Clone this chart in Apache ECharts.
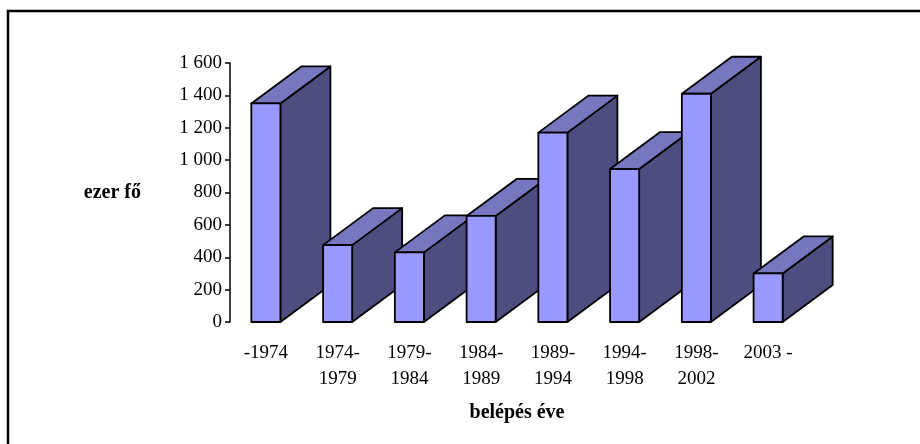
<!DOCTYPE html>
<html>
<head>
<meta charset="utf-8">
<script src="https://cdn.jsdelivr.net/npm/echarts@6/dist/echarts.min.js"></script>
<style>
  html, body { margin: 0; padding: 0; background: #fff; }
  #chart { width: 920px; height: 444px; }
</style>
</head>
<body>
<div id="chart"></div>
<script>
// belépés éve szerinti létszám, ezer fő
const categories = ['-1974', '1974-\n1979', '1979-\n1984', '1984-\n1989', '1989-\n1994', '1994-\n1998', '1998-\n2002', '2003 -']
const values = [1350, 475, 430, 655, 1170, 945, 1410, 300]
const yTicks = { min: 0, max: 1600, interval: 200 }

const FONT = 'Liberation Serif, Times New Roman, serif'
const DEPTH_X = 50
const DEPTH_Y = 37

// hasáb 3D rajzolása: oldal, tető, előlap
function renderBar(params, api) {
  const i = api.value(0)
  const top = api.coord([i, api.value(1)])
  const base = api.coord([i, 0])
  const w = api.size([1, 0])[0] * 0.405
  const x0 = top[0] - w / 2
  const x1 = top[0] + w / 2
  const yt = top[1]
  const yb = base[1]
  const stroke = { stroke: '#000', lineWidth: 1.8, lineJoin: 'round' }
  return {
    type: 'group',
    children: [
      {
        type: 'polygon',
        shape: { points: [[x1, yt], [x1 + DEPTH_X, yt - DEPTH_Y], [x1 + DEPTH_X, yb - DEPTH_Y], [x1, yb]] },
        style: Object.assign({ fill: '#4d4d80' }, stroke)
      },
      {
        type: 'polygon',
        shape: { points: [[x0, yt], [x0 + DEPTH_X, yt - DEPTH_Y], [x1 + DEPTH_X, yt - DEPTH_Y], [x1, yt]] },
        style: Object.assign({ fill: '#7777bf' }, stroke)
      },
      {
        type: 'rect',
        shape: { x: x0, y: yt, width: w, height: yb - yt },
        style: Object.assign({ fill: '#9999ff' }, stroke)
      }
    ]
  }
}

const chart = echarts.init(document.getElementById('chart'), null, { renderer: 'canvas' })

chart.setOption({
  animation: false,
  backgroundColor: '#fff',
  textStyle: { fontFamily: FONT },
  graphic: [
    {
      type: 'polyline',
      shape: { points: [[8, 460], [8, 11], [930, 11]] },
      style: { stroke: '#000', lineWidth: 2.5, fill: null },
      z: 10
    }
  ],
  grid: { left: 230, right: 116, top: 63, bottom: 122 },
  xAxis: {
    type: 'category',
    data: categories,
    name: 'belépés éve',
    nameLocation: 'middle',
    nameGap: 81,
    nameTextStyle: { fontFamily: FONT, fontSize: 20, fontWeight: 'bold', color: '#000' },
    axisLine: { show: false },
    axisTick: { show: false },
    axisLabel: { fontFamily: FONT, fontSize: 19, color: '#000', margin: 18, lineHeight: 26, interval: 0 }
  },
  yAxis: {
    type: 'value',
    min: yTicks.min,
    max: yTicks.max,
    interval: yTicks.interval,
    name: 'ezer fő',
    nameLocation: 'middle',
    nameRotate: 0,
    nameGap: 89,
    nameTextStyle: { fontFamily: FONT, fontSize: 20, fontWeight: 'bold', color: '#000' },
    axisLine: { show: true, lineStyle: { color: '#000', width: 1.5 } },
    axisTick: { show: true, length: 5, lineStyle: { color: '#000', width: 1.5 } },
    splitLine: { show: false },
    axisLabel: {
      fontFamily: FONT,
      fontSize: 19,
      color: '#000',
      margin: 8,
      formatter: v => String(v).replace(/\B(?=(\d{3})+(?!\d))/g, ' ')
    }
  },
  series: [
    {
      type: 'custom',
      renderItem: renderBar,
      data: values.map((v, i) => [i, v]),
      encode: { x: 0, y: 1 },
      clip: false
    }
  ]
})
</script>
</body>
</html>
